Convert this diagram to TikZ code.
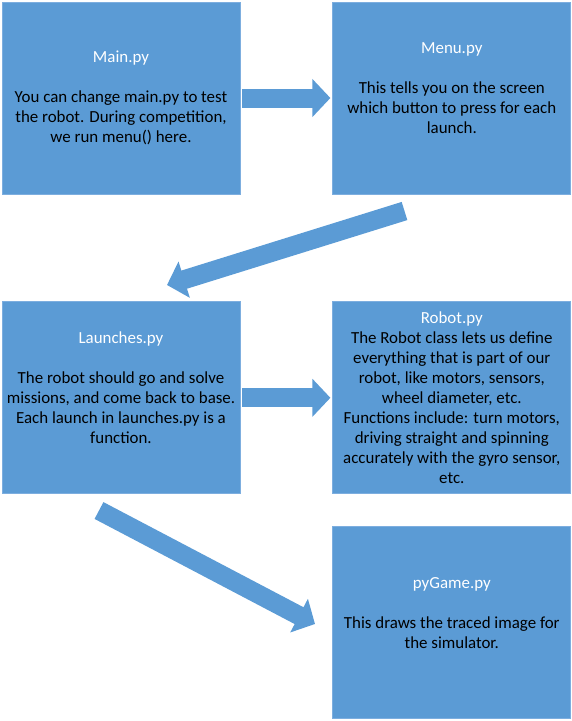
\documentclass[tikz,border=0pt]{standalone}
\usepackage{fontspec}
\setmainfont{Carlito}
\usetikzlibrary{positioning,arrows.meta}
\definecolor{fileblue}{HTML}{5B9BD5}
\definecolor{fileedge}{HTML}{7DAEDF}
\newcommand{\ftitle}[1]{\textcolor{white}{#1}}

\begin{document}
\begin{tikzpicture}[x=1pt,y=-1pt,
         file/.style = {draw=fileedge, line width=0.8pt, fill=fileblue,
            minimum width=238pt, minimum height=192pt, inner sep=0pt,
            align=center, text=black,
            font=\fontsize{16.9pt}{20pt}\selectfont},
         flow/.style = {fileblue, line width=19pt,
            -{Triangle[length=18pt,width=37pt]}}
]
   \useasboundingbox (0,0) rectangle (571,721);

   \node[file] (main) at (121,98) {\ftitle{Main.py}\\[20pt]
      You can change main.py to test\\
      the robot. During competition,\\
      we run menu() here.};
   \node[file, right=92pt of main] (menu) {\ftitle{Menu.py}\\[20pt]
      This tells you on the screen\\
      which button to press for each\\
      launch.\\ ~};
   \node[file, below=107pt of main] (launches) {\ftitle{Launches.py}\\[20pt]
      The robot should go and solve\\
      missions, and come back to base.\\
      Each launch in launches.py is a\\
      function.\\ ~};
   \node[file, right=92pt of launches] (robot) {\ftitle{Robot.py}\\
      The Robot class lets us define\\
      everything that is part of our\\
      robot, like motors, sensors,\\
      wheel diameter, etc.\\
      Functions include: turn motors,\\
      driving straight and spinning\\
      accurately with the gyro sensor,\\
      etc.};
   \node[file, below=32pt of robot] (pygame) {\ftitle{pyGame.py}\\[20pt]
      This draws the traced image for\\
      the simulator.\\ ~};

   % free ends of the two slanted arrows
   \coordinate (d1s) at (404.5,211);
   \coordinate (d1e) at (167,285);
   \coordinate (d2s) at (99,510.5);
   \coordinate (d2e) at (315,624);

   \draw[flow] ([xshift=2pt]main.east) -- ([xshift=-2pt]menu.west);
   \draw[flow] (d1s) -- (d1e);
   \draw[flow] ([xshift=2pt]launches.east) -- ([xshift=-2pt]robot.west);
   \draw[flow] (d2s) -- (d2e);
\end{tikzpicture}
\end{document}
